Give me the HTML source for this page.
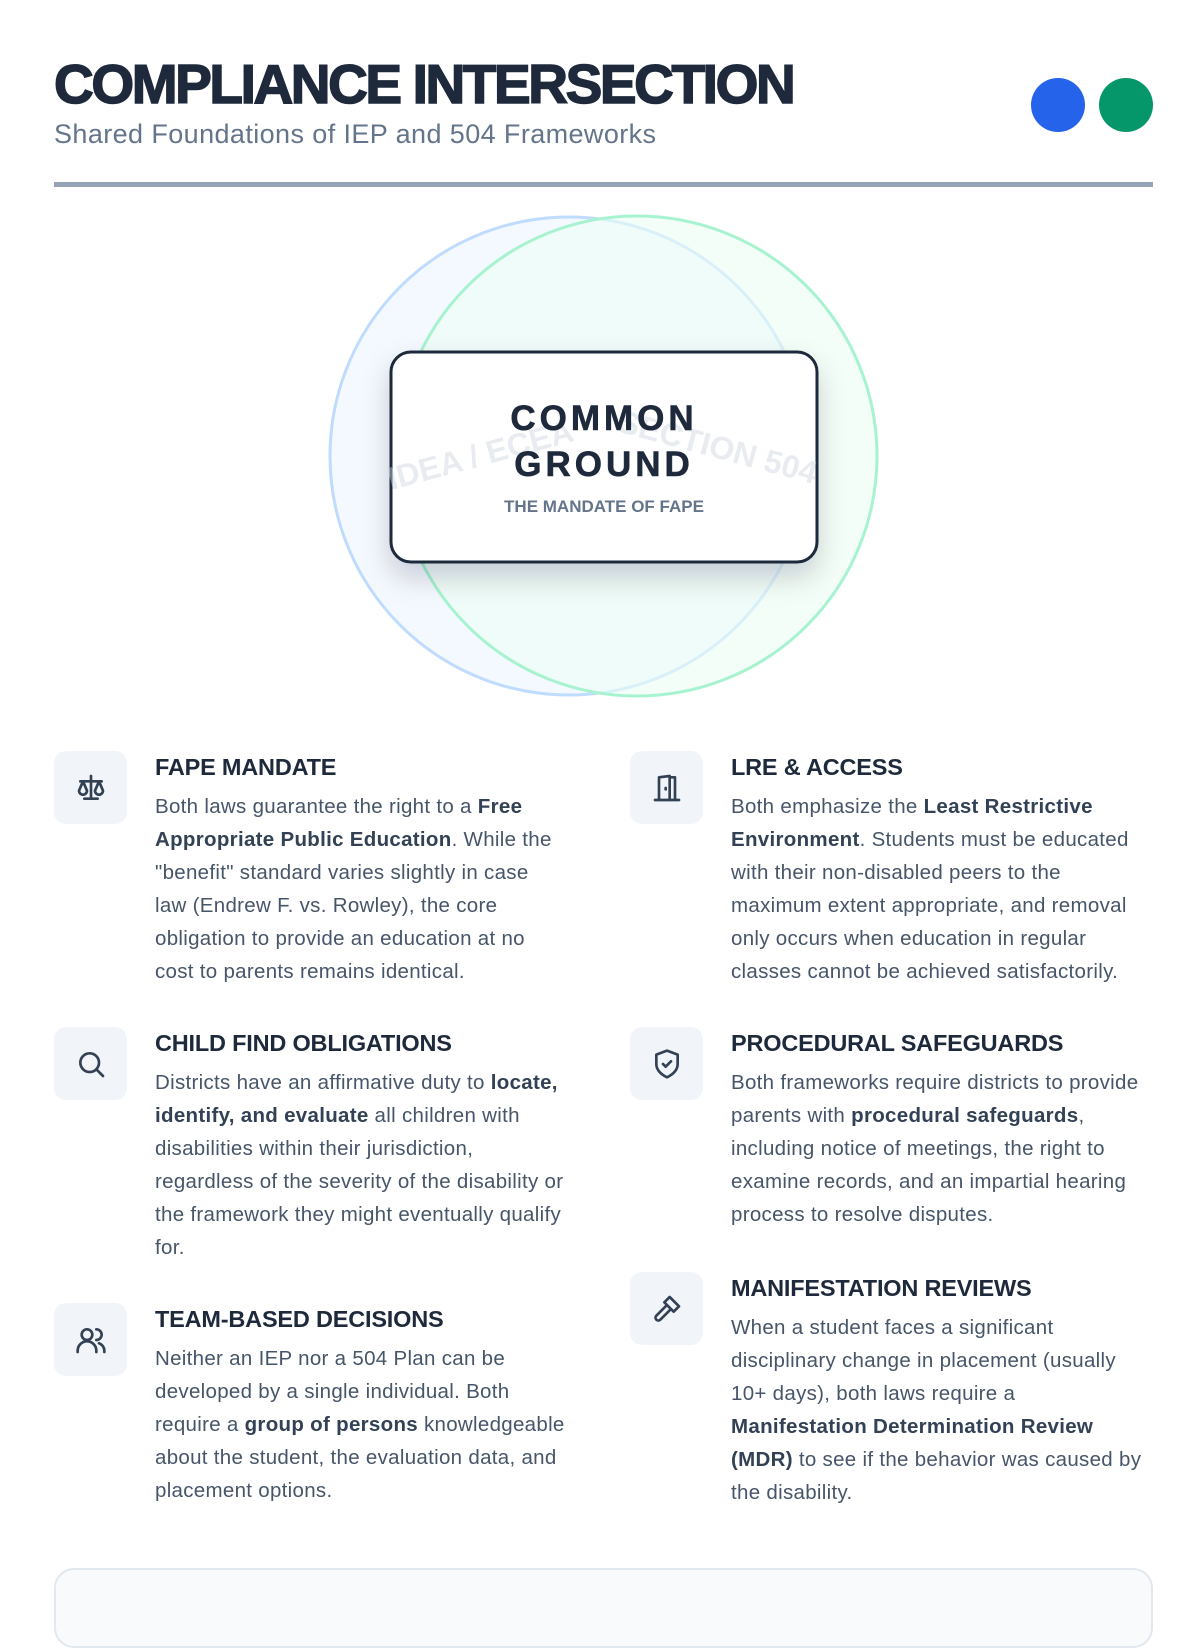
<!DOCTYPE html>
<html><head><meta charset="utf-8"><style>
*{margin:0;padding:0;box-sizing:border-box}
body{width:1200px;height:1600px;background:#fff;font-family:"Liberation Sans",sans-serif;position:relative;overflow:hidden}
.abs{position:absolute}
h1{position:absolute;left:54px;top:54px;font-size:55px;font-weight:900;letter-spacing:-2.4px;color:#1e293b;line-height:60px;white-space:nowrap;-webkit-text-stroke:1.5px #1e293b}
.sub{position:absolute;left:54px;top:119px;font-size:27px;letter-spacing:0.4px;color:#64748b;line-height:30px;white-space:nowrap}
.rule{position:absolute;left:54px;top:182px;width:1099px;height:5px;background:#94a3b8}
.dot{position:absolute;top:78px;width:54px;height:54px;border-radius:50%}
.item{position:absolute;width:540px}
.icon{position:absolute;left:0;top:0;width:73px;height:73px;border-radius:12px;background:#f1f5f9;display:flex;align-items:center;justify-content:center}
.txt{position:absolute;left:101px;top:0;width:460px;white-space:nowrap}
.t{font-size:23.5px;font-weight:bold;color:#1e293b;line-height:32px;white-space:nowrap;letter-spacing:-0.2px}
.b{margin-top:7px;font-size:20.5px;letter-spacing:0.3px;line-height:33px;color:#475569}
.b strong{color:#334155}
</style></head><body>
<h1>COMPLIANCE INTERSECTION</h1>
<div class="sub">Shared Foundations of IEP and 504 Frameworks</div>
<div class="dot" style="left:1031px;background:#2563eb"></div>
<div class="dot" style="left:1099px;background:#059669"></div>
<div class="rule"></div>

<svg class="abs" style="left:0;top:0" width="1200" height="720">
<defs><filter id="sh" x="-20%" y="-20%" width="140%" height="160%"><feDropShadow dx="0" dy="14" stdDeviation="14" flood-color="#0f172a" flood-opacity="0.18"/></filter></defs>
<circle cx="569" cy="456" r="239" fill="#eff6ff" fill-opacity="0.7" stroke="#bfdbfe" stroke-width="3"/>
<circle cx="637" cy="456" r="240" fill="#ecfdf5" fill-opacity="0.6" stroke="#a7f3d0" stroke-width="3"/>
<rect x="391" y="352" width="426" height="210" rx="20" fill="#fff" stroke="#1e293b" stroke-width="3" filter="url(#sh)"/>
<text x="478" y="466" transform="rotate(-15 478 446)" text-anchor="middle" font-family="Liberation Sans" font-weight="bold" font-size="32" fill="#cbd5e1" fill-opacity="0.45">IDEA / ECEA</text>
<text x="718" y="458" transform="rotate(15 718 446)" text-anchor="middle" font-family="Liberation Sans" font-weight="bold" font-size="32" fill="#cbd5e1" fill-opacity="0.45">SECTION 504</text>
<text x="604" y="430" text-anchor="middle" font-family="Liberation Sans" font-weight="bold" font-size="35" letter-spacing="4" fill="#1e293b" stroke="#1e293b" stroke-width="0.6">COMMON</text>
<text x="604" y="476" text-anchor="middle" font-family="Liberation Sans" font-weight="bold" font-size="35" letter-spacing="4" fill="#1e293b" stroke="#1e293b" stroke-width="0.6">GROUND</text>
<text x="604" y="512" text-anchor="middle" font-family="Liberation Sans" font-weight="bold" font-size="17" fill="#64748b">THE MANDATE OF FAPE</text>
</svg>

<div class="item" style="left:54px;top:751px">
<div class="icon"><svg width="32" height="32" viewBox="0 0 24 24" fill="none" stroke="#334155" stroke-width="2" stroke-linecap="round" stroke-linejoin="round"><path d="M12 3v17M7 20h10M4 7h16M6 7l-3 7a3 3 0 0 0 6 0zM18 7l-3 7a3 3 0 0 0 6 0z"/></svg></div>
<div class="txt"><div class="t">FAPE MANDATE</div><div class="b">Both laws guarantee the right to a <strong>Free</strong><br><strong>Appropriate Public Education</strong>. While the<br>"benefit" standard varies slightly in case<br>law (Endrew F. vs. Rowley), the core<br>obligation to provide an education at no<br>cost to parents remains identical.</div></div>
</div>

<div class="item" style="left:54px;top:1027px">
<div class="icon"><svg width="32" height="32" viewBox="0 0 24 24" fill="none" stroke="#334155" stroke-width="2" stroke-linecap="round"><circle cx="11" cy="11" r="7"/><path d="M16 16l5 5"/></svg></div>
<div class="txt"><div class="t">CHILD FIND OBLIGATIONS</div><div class="b">Districts have an affirmative duty to <strong>locate,</strong><br><strong>identify, and evaluate</strong> all children with<br>disabilities within their jurisdiction,<br>regardless of the severity of the disability or<br>the framework they might eventually qualify<br>for.</div></div>
</div>

<div class="item" style="left:54px;top:1303px">
<div class="icon"><svg width="32" height="32" viewBox="0 0 24 24" fill="none" stroke="#334155" stroke-width="2" stroke-linecap="round"><circle cx="9" cy="8" r="4"/><path d="M2 21v-1a7 7 0 0 1 14 0v1M16 4a4 4 0 0 1 0 8M22 21v-1a6 6 0 0 0-4-5.6"/></svg></div>
<div class="txt"><div class="t">TEAM-BASED DECISIONS</div><div class="b">Neither an IEP nor a 504 Plan can be<br>developed by a single individual. Both<br>require a <strong>group of persons</strong> knowledgeable<br>about the student, the evaluation data, and<br>placement options.</div></div>
</div>

<div class="item" style="left:630px;top:751px">
<div class="icon"><svg width="32" height="32" viewBox="0 0 24 24" fill="none" stroke="#334155" stroke-width="2" stroke-linecap="round" stroke-linejoin="round"><path d="M3 21h18M6 21V4l8-1v18M14 4h4v17M11 12v1"/></svg></div>
<div class="txt"><div class="t">LRE &amp; ACCESS</div><div class="b">Both emphasize the <strong>Least Restrictive</strong><br><strong>Environment</strong>. Students must be educated<br>with their non-disabled peers to the<br>maximum extent appropriate, and removal<br>only occurs when education in regular<br>classes cannot be achieved satisfactorily.</div></div>
</div>

<div class="item" style="left:630px;top:1027px">
<div class="icon"><svg width="32" height="32" viewBox="0 0 24 24" fill="none" stroke="#334155" stroke-width="2" stroke-linecap="round" stroke-linejoin="round"><path d="M12 2l8 3v7c0 5-4 8-8 10-4-2-8-5-8-10V5z"/><path d="M9 12l2 2 4-4"/></svg></div>
<div class="txt"><div class="t">PROCEDURAL SAFEGUARDS</div><div class="b">Both frameworks require districts to provide<br>parents with <strong>procedural safeguards</strong>,<br>including notice of meetings, the right to<br>examine records, and an impartial hearing<br>process to resolve disputes.</div></div>
</div>

<div class="item" style="left:630px;top:1272px">
<div class="icon"><svg width="32" height="32" viewBox="0 0 24 24" fill="none" stroke="#334155" stroke-width="2" stroke-linecap="round" stroke-linejoin="round"><path d="M14 3l7 7-4 4-7-7z"/><path d="M11 10l-7 7a2 2 0 0 0 3 3l7-7"/></svg></div>
<div class="txt"><div class="t">MANIFESTATION REVIEWS</div><div class="b">When a student faces a significant<br>disciplinary change in placement (usually<br>10+ days), both laws require a<br><strong>Manifestation Determination Review</strong><br><strong>(MDR)</strong> to see if the behavior was caused by<br>the disability.</div></div>
</div>

<div class="abs" style="left:54px;top:1568px;width:1099px;height:80px;border:2px solid #e2e8f0;border-radius:20px;background:#f8fafc"></div>
</body></html>
